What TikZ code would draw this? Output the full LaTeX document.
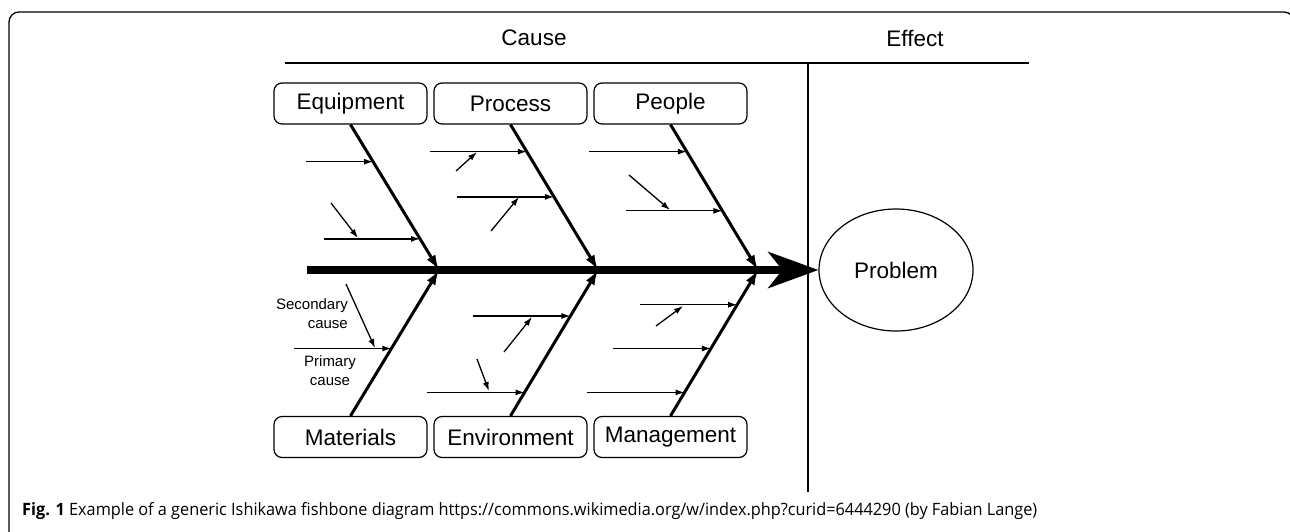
\documentclass[tikz,border=0pt]{standalone}
\usepackage{fontspec}
\setmainfont{Liberation Sans}
\newfontfamily\capfont{Open Sans}
\usetikzlibrary{arrows.meta,shapes.geometric,calc}

\begin{document}
\begin{tikzpicture}[x=1pt,y=-1pt,>={Latex[length=9pt,width=6pt]},font=\fontsize{22.5}{27}\selectfont,
  catbox/.style={draw,rounded corners=8pt,line width=1.2pt,minimum width=153pt,minimum height=41pt,inner sep=0pt},
  bone/.style={line width=3pt,-{Latex[length=15pt,width=10pt]}},
  primary/.style={line width=1.3pt,->},
  secondary/.style={line width=1.3pt,->},
  small/.style={font=\fontsize{15}{19}\selectfont,inner sep=0pt}]
  \useasboundingbox (0,0) rectangle (1290,531);
  % frame
  \draw[line width=1.3pt,rounded corners=10pt] (9,545) -- (9,12) -- (1294,12) -- (1294,40);
  % header
  \draw[line width=1.2pt] (285,63) -- (1029,63);
  \draw[line width=1.2pt] (808,63) -- (808,492);
  \node (cause) at (534,38) {Cause};
  \node (effect) at (915,38) {Effect};
  % categories
  \node[catbox] (equip) at (350.5,103.5) {Equipment};
  \node[catbox] (proc) at (510.5,103.5) {Process};
  \node[catbox] (people) at (670.5,103.5) {People};
  \node[catbox] (mat) at (350.5,437) {Materials};
  \node[catbox] (env) at (510.5,437) {Environment};
  \node[catbox] (mgmt) at (670.5,437) {Management};
  \node[draw,ellipse,line width=1.2pt,minimum width=154pt,minimum height=122pt,inner sep=0pt] (prob) at (896,270) {Problem};
  % spine
  \coordinate (tail) at (307,270);
  \coordinate (j1) at (439,270);
  \coordinate (j2) at (598,270);
  \coordinate (j3) at (758,270);
  \draw[line width=8pt,-{Stealth[length=50pt,width=36pt,inset=14pt]}] (tail) -- (prob.west);
  \draw[bone] (equip.south) -- (j1);
  \draw[bone] (proc.south) -- (j2);
  \draw[bone] (people.south) -- (j3);
  \draw[bone] (mat.north) -- (j1);
  \draw[bone] (env.north) -- (j2);
  \draw[bone] (mgmt.north) -- (j3);
  % primary causes, top
  \coordinate (e1) at ($(equip.south)!0.255!(j1)$);
  \coordinate (e2) at ($(equip.south)!0.786!(j1)$);
  \coordinate (p1) at ($(proc.south)!0.186!(j2)$);
  \coordinate (p2) at ($(proc.south)!0.497!(j2)$);
  \coordinate (h1) at ($(people.south)!0.186!(j3)$);
  \coordinate (h2) at ($(people.south)!0.593!(j3)$);
  \draw[primary] ([xshift=-67pt]e1) -- (e1);
  \draw[primary] ([xshift=-96pt]e2) -- (e2);
  \draw[primary] ([xshift=-97pt]p1) -- (p1);
  \draw[primary] ([xshift=-97pt]p2) -- (p2);
  \draw[primary] ([xshift=-98pt]h1) -- (h1);
  \draw[primary] ([xshift=-96pt]h2) -- (h2);
  % primary causes, bottom
  \coordinate (m1) at ($(mat.north)!0.462!(j1)$);
  \coordinate (v1) at ($(env.north)!0.685!(j2)$);
  \coordinate (v2) at ($(env.north)!0.161!(j2)$);
  \coordinate (g1) at ($(mgmt.north)!0.762!(j3)$);
  \coordinate (g2) at ($(mgmt.north)!0.462!(j3)$);
  \coordinate (g3) at ($(mgmt.north)!0.161!(j3)$);
  \draw[primary] ([xshift=-97pt]m1) -- (m1);
  \draw[primary] ([xshift=-97pt]v1) -- (v1);
  \draw[primary] ([xshift=-98pt]v2) -- (v2);
  \draw[primary] ([xshift=-97pt]g1) -- (g1);
  \draw[primary] ([xshift=-98pt]g2) -- (g2);
  \draw[primary] ([xshift=-98pt]g3) -- (g3);
  % secondary causes
  \coordinate (se1) at (358,238);
  \coordinate (sp1) at (477,152);
  \coordinate (sp2) at (519,197);
  \coordinate (sh1) at (670,210);
  \coordinate (sm1) at (375,348);
  \coordinate (sv1) at (532,317);
  \coordinate (sv2) at (489,391);
  \coordinate (sg1) at (683,306);
  \draw[secondary] ([shift={(-27pt,35pt)}]se1) -- (se1);
  \draw[secondary] ([shift={(-21pt,-19pt)}]sp1) -- (sp1);
  \draw[secondary] ([shift={(-28pt,-34pt)}]sp2) -- (sp2);
  \draw[secondary] ([shift={(-41pt,35pt)}]sh1) -- (sh1);
  \draw[secondary] ([shift={(-29pt,64pt)}]sm1) -- (sm1);
  \draw[secondary] ([shift={(-28pt,-35pt)}]sv1) -- (sv1);
  \draw[secondary] ([shift={(-12pt,32pt)}]sv2) -- (sv2);
  \draw[secondary] ([shift={(-27pt,-20pt)}]sg1) -- (sg1);
  \node[small,align=right,anchor=east] (seclab) at (348,314) {Secondary\\cause};
  \node[small,align=center] (primlab) at (330,371) {Primary\\cause};
  % caption
  \node[anchor=west,inner sep=0pt,font=\capfont\fontsize{17}{20}\selectfont] (caption) at (22,511)
    {\scalebox{0.958}[1]{\textbf{Fig. 1} Example of a generic Ishikawa fishbone diagram https://commons.wikimedia.org/w/index.php?curid=6444290 (by Fabian Lange)}};
\end{tikzpicture}
\end{document}
